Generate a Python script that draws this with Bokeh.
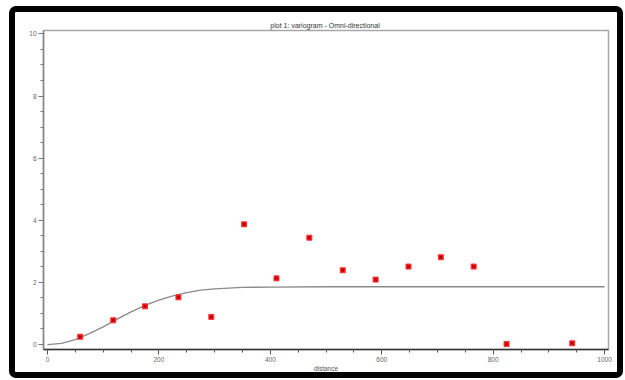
from bokeh.plotting import figure
from bokeh.models import FixedTicker, Range1d
from bokeh.embed import file_html
from bokeh.resources import INLINE

# experimental variogram points (lag distance, semivariance)
lag_distance = [58.7, 118, 175, 235, 294, 353, 411, 470, 530, 589, 648, 706, 765, 824, 942]
semivariance = [0.25, 0.78, 1.23, 1.52, 0.89, 3.87, 2.13, 3.44, 2.39, 2.09, 2.51, 2.81, 2.51, 0.02, 0.04]

# model curve
model_distance = [0, 25, 50, 75, 100, 125, 150, 175, 200, 225, 250, 275, 300, 350, 400, 500, 600, 700, 800, 900, 1000]
model_value = [0.0, 0.04, 0.16, 0.35, 0.57, 0.82, 1.05, 1.26, 1.43, 1.57, 1.67, 1.75, 1.79, 1.84, 1.85, 1.86, 1.86, 1.86, 1.86, 1.86, 1.86]

x_major = [0, 200, 400, 600, 800, 1000]
x_minor = list(range(0, 1001, 50))
y_major = [0, 2, 4, 6, 8, 10]
y_minor = [i * 0.5 for i in range(0, 21)]

FONT = "Liberation Sans"

p = figure(width=614, height=372, output_backend="svg", toolbar_location=None,
           x_range=Range1d(-7.2, 1007), y_range=Range1d(-0.16, 10.11),
           title="plot 1:  variogram - Omni-directional",
           min_border_left=28, min_border_right=21, min_border_top=18, min_border_bottom=35,
           styles={"border": "6px solid black", "border-radius": "7px",
                   "margin-left": "9px", "margin-top": "6px"})

p.background_fill_color = "white"
p.border_fill_color = "white"
p.outline_line_color = "#a8a8a8"
p.outline_line_width = 1.5
p.grid.visible = False

p.title.align = "center"
p.title.text_font = FONT
p.title.text_font_size = "7px"
p.title.text_font_style = "normal"
p.title.text_color = "#333333"
p.title.standoff = 4

for ax, maj, mnr in ((p.xaxis[0], x_major, x_minor), (p.yaxis[0], y_major, y_minor)):
    ax.ticker = FixedTicker(ticks=maj, minor_ticks=mnr)
    ax.major_label_text_font = FONT
    ax.major_label_text_font_size = "6.5px"
    ax.major_label_text_color = "#666666"
    ax.major_tick_out = 5
    ax.major_tick_in = 0
    ax.minor_tick_out = 3
    ax.minor_tick_in = 0
    ax.major_label_standoff = 2

p.xaxis.axis_line_color = "#333333"
p.xaxis.major_tick_line_color = "#555555"
p.xaxis.minor_tick_line_color = "#555555"
p.yaxis.axis_line_color = "#888888"
p.yaxis.major_tick_line_color = "#777777"
p.yaxis.minor_tick_line_color = "#777777"
p.xaxis.axis_line_width = 1.5
p.yaxis.axis_line_width = 1.5

p.xaxis.axis_label = "distance"
p.xaxis.axis_label_text_font = FONT
p.xaxis.axis_label_text_font_size = "6.5px"
p.xaxis.axis_label_text_font_style = "normal"
p.xaxis.axis_label_text_color = "#555555"
p.xaxis.axis_label_standoff = 0

p.line(model_distance, model_value, line_color="#8a8a8a", line_width=1.3)
p.scatter(lag_distance, semivariance, marker="square", size=5, fill_color="#ff1010", line_color="#ff3030")
p.scatter(lag_distance, semivariance, marker="x", size=3.5, line_color="#700000", line_width=1)

open("out.html", "w").write(file_html(p, INLINE))
